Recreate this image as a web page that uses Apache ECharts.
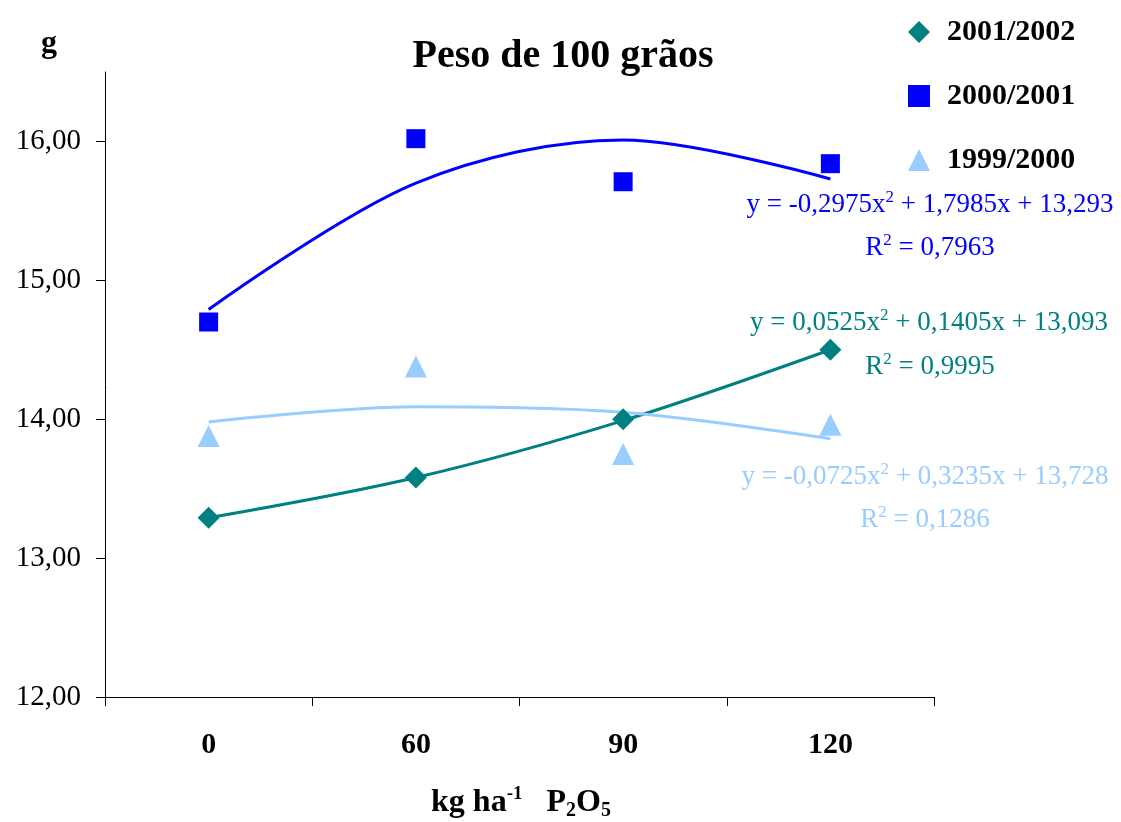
<!DOCTYPE html>
<html>
<head>
<meta charset="utf-8">
<title>Peso de 100 grãos</title>
<script src="https://cdn.jsdelivr.net/npm/echarts@6/dist/echarts.min.js"></script>
<style>
  html, body { margin: 0; padding: 0; background: #fff; }
  #chart { width: 1121px; height: 822px; }
</style>
</head>
<body>
<div id="chart"></div>
<script>
// doses de P2O5 (kg/ha)
const doses = ['0', '60', '90', '120']
const yTicks = { min: 12, max: 16.5, interval: 1 }

// peso de 100 graos (g) por safra
const peso0102 = [13.29, 13.58, 14.00, 14.50]
const peso0001 = [14.70, 16.02, 15.71, 15.84]
const peso9900 = [13.88, 14.38, 13.75, 13.96]

// linhas de tendencia
const trend0102 = [13.29, 13.58, 13.99, 14.50]
const trend0001 = [14.79, 15.70, 16.01, 15.73]
const trend9900 = [13.98, 14.09, 14.05, 13.86]

const teal = '#008080'
const blue = '#0000ff'
const light = '#99ccff'
const serif = '"Liberation Serif", "Times New Roman", serif'

const chart = echarts.init(document.getElementById('chart'))

function eqText(x, y, color, parts) {
  return {
    type: 'text',
    x: x,
    y: y,
    style: {
      text: parts,
      fill: color,
      font: '27px ' + serif,
      textAlign: 'center',
      textVerticalAlign: 'middle',
      rich: {
        n: { fontSize: 27, fontFamily: serif, fill: color, lineHeight: 32 },
        s: { fontSize: 17, fontFamily: serif, fill: color, verticalAlign: 'top', lineHeight: 32 }
      }
    }
  }
}

function trendSeries(data, color) {
  return {
    type: 'line',
    data: data,
    smooth: 0.33,
    symbol: 'none',
    silent: true,
    z: 2,
    lineStyle: { color: color, width: 3 }
  }
}

chart.setOption({
  animation: false,
  backgroundColor: '#fff',
  title: {
    text: 'Peso de 100 grãos',
    left: 558,
    top: 32,
    textAlign: 'center',
    textStyle: { fontFamily: serif, fontSize: 40, fontWeight: 'bold', color: '#000' }
  },
  legend: {
    orient: 'vertical',
    left: 903,
    top: 12,
    itemGap: 34,
    itemWidth: 22,
    itemHeight: 22,
    data: [
      { name: '2001/2002', icon: 'diamond' },
      { name: '2000/2001', icon: 'rect' },
      { name: '1999/2000', icon: 'triangle' }
    ],
    textStyle: { fontFamily: serif, fontSize: 30, fontWeight: 'bold', color: '#000', padding: [0, 0, 0, 12] }
  },
  grid: { left: 105, right: 187, top: 72, bottom: 125 },
  xAxis: {
    type: 'category',
    data: doses,
    boundaryGap: true,
    axisLine: { lineStyle: { color: '#000', width: 1 } },
    axisTick: { show: true, length: 9, lineStyle: { color: '#000' } },
    axisLabel: { margin: 33, fontFamily: serif, fontSize: 30, fontWeight: 'bold', color: '#000' },
    splitLine: { show: false }
  },
  yAxis: {
    type: 'value',
    min: yTicks.min,
    max: yTicks.max,
    interval: yTicks.interval,
    axisLine: { show: true, lineStyle: { color: '#000', width: 1 } },
    axisTick: { show: true, length: 9, lineStyle: { color: '#000' } },
    axisLabel: {
      margin: 24,
      fontFamily: serif,
      fontSize: 29,
      color: '#000',
      showMaxLabel: false,
      formatter: v => (v % 1 === 0 ? v.toFixed(2).replace('.', ',') : '')
    },
    splitLine: { show: false }
  },
  series: [
    trendSeries(trend0102, teal),
    trendSeries(trend0001, blue),
    trendSeries(trend9900, light),
    {
      name: '2001/2002', type: 'scatter', data: peso0102, symbol: 'diamond', symbolSize: 22, z: 5,
      itemStyle: { color: teal, opacity: 1 }
    },
    {
      name: '2000/2001', type: 'scatter', data: peso0001, symbol: 'rect', symbolSize: 19, z: 5,
      itemStyle: { color: blue, opacity: 1 }
    },
    {
      name: '1999/2000', type: 'scatter', data: peso9900, symbol: 'triangle', symbolSize: 22, z: 5,
      itemStyle: { color: light, opacity: 1 }
    }
  ],
  graphic: [
    {
      type: 'text', x: 49, y: 44,
      style: { text: 'g', font: 'bold 32px ' + serif, fill: '#000', textAlign: 'center', textVerticalAlign: 'middle' }
    },
    {
      type: 'text', x: 521, y: 803,
      style: {
        text: '{n|kg ha}{s|-1}{n|   P}{b|2}{n|O}{b|5}',
        fill: '#000',
        textAlign: 'center',
        textVerticalAlign: 'middle',
        rich: {
          n: { fontFamily: serif, fontSize: 32, fontWeight: 'bold', fill: '#000', lineHeight: 36 },
          s: { fontFamily: serif, fontSize: 19, fontWeight: 'bold', fill: '#000', verticalAlign: 'top', lineHeight: 36 },
          b: { fontFamily: serif, fontSize: 20, fontWeight: 'bold', fill: '#000', verticalAlign: 'bottom', lineHeight: 30 }
        }
      }
    },
    eqText(930, 205, blue, '{n|y = -0,2975x}{s|2}{n| + 1,7985x + 13,293}'),
    eqText(930, 248, blue, '{n|R}{s|2}{n| = 0,7963}'),
    eqText(929, 323, teal, '{n|y = 0,0525x}{s|2}{n| + 0,1405x + 13,093}'),
    eqText(930, 367, teal, '{n|R}{s|2}{n| = 0,9995}'),
    eqText(925, 477, light, '{n|y = -0,0725x}{s|2}{n| + 0,3235x + 13,728}'),
    eqText(925, 520, light, '{n|R}{s|2}{n| = 0,1286}')
  ]
})
</script>
</body>
</html>
